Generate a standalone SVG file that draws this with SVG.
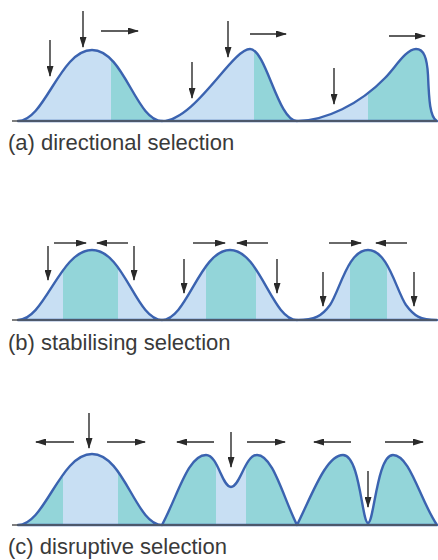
<svg xmlns="http://www.w3.org/2000/svg" width="438" height="560" viewBox="0 0 438 560">
<style>
.curve{fill:none;stroke:#3b63b0;stroke-width:2.4;stroke-linejoin:round}
.lb{fill:#c8dff3}
.tl{fill:#93d5d9}
.axis{stroke:#555;stroke-width:1.5}
.arr{stroke:#2a2a2a;stroke-width:1.4;fill:none;marker-end:url(#ah)}
.lbl{font-family:"Liberation Sans",Arial,sans-serif;font-size:22px;fill:#3a3a3a}
</style>
<defs>
<marker id="ah" markerWidth="11" markerHeight="7" refX="10" refY="3.5" orient="auto" markerUnits="userSpaceOnUse"><path d="M0,0 L11,3.5 L0,7 z" fill="#2a2a2a"/></marker>
<path id="a1" d="M18,121 C45,121 60,50 92,50 C124,50 136,121 162,121 Z"/>
<path id="a2" d="M162,121 C195,121 232,49 250,49 C266,49 278,121 297,121 Z"/>
<path id="a3" d="M297,121 C325,121 360,104 385,78 C395,68 406,49 416,49 C424,49 427,58 428,75 C429,100 430,118 437,121 Z"/>
<path id="b1" d="M18,320 C45,320 60,250 92,250 C124,250 136,320 162,320 Z"/>
<path id="b2" d="M162,320 C187,320 200,250 230,250 C260,250 272,320 297,320 Z"/>
<path id="b3" d="M297,320 C315,320 322,316 330,305 C340,290 348,250 368,250 C388,250 396,290 406,305 C414,316 420,320 437,320 Z"/>
<path id="c1" d="M18,525 C45,525 60,454 92,454 C124,454 136,525 162,525 Z"/>
<path id="c2" d="M162,525 C178,495 188,455 206,455 C218,455 222,487 231,487 C240,487 245,455 257,455 C273,455 283,497 297,525 Z"/>
<path id="c3" d="M297,525 C312,495 326,455 343,455 C360,455 362,523 368,523 C374,523 377,455 393,455 C410,455 420,500 437,525 Z"/>
<clipPath id="ca1"><use href="#a1"/></clipPath>
<clipPath id="ca2"><use href="#a2"/></clipPath>
<clipPath id="ca3"><use href="#a3"/></clipPath>
<clipPath id="cb1"><use href="#b1"/></clipPath>
<clipPath id="cb2"><use href="#b2"/></clipPath>
<clipPath id="cb3"><use href="#b3"/></clipPath>
<clipPath id="cc1"><use href="#c1"/></clipPath>
<clipPath id="cc2"><use href="#c2"/></clipPath>
</defs>
<rect width="438" height="560" fill="#fff"/>

<g id="panel-a">
<g id="a-curve1"><use href="#a1" class="lb"/><rect x="111" y="40" width="60" height="82" class="tl" clip-path="url(#ca1)"/><use href="#a1" class="curve"/></g>
<g id="a-curve2"><use href="#a2" class="lb"/><rect x="254" y="40" width="50" height="82" class="tl" clip-path="url(#ca2)"/><use href="#a2" class="curve"/></g>
<g id="a-curve3"><use href="#a3" class="lb"/><rect x="368" y="40" width="72" height="82" class="tl" clip-path="url(#ca3)"/><use href="#a3" class="curve"/></g>
<line class="axis" x1="12" y1="121" x2="437" y2="121"/>
<text class="lbl" x="8" y="150">(a) directional selection</text>
</g>

<g id="panel-b">
<g id="b-curve1"><use href="#b1" class="lb"/><rect x="63" y="240" width="55" height="82" class="tl" clip-path="url(#cb1)"/><use href="#b1" class="curve"/></g>
<g id="b-curve2"><use href="#b2" class="lb"/><rect x="206" y="240" width="50" height="82" class="tl" clip-path="url(#cb2)"/><use href="#b2" class="curve"/></g>
<g id="b-curve3"><use href="#b3" class="lb"/><rect x="350" y="240" width="37" height="82" class="tl" clip-path="url(#cb3)"/><use href="#b3" class="curve"/></g>
<line class="axis" x1="12" y1="320" x2="437" y2="320"/>
<text class="lbl" x="8" y="350">(b) stabilising selection</text>
</g>

<g id="panel-c">
<g id="c-curve1"><use href="#c1" class="tl"/><rect x="63" y="440" width="55" height="87" class="lb" clip-path="url(#cc1)"/><use href="#c1" class="curve"/></g>
<g id="c-curve2"><use href="#c2" class="tl"/><rect x="216" y="440" width="30" height="87" class="lb" clip-path="url(#cc2)"/><use href="#c2" class="curve"/></g>
<g id="c-curve3"><use href="#c3" class="tl"/><use href="#c3" class="curve"/></g>
<line class="axis" x1="12" y1="525" x2="437" y2="525"/>
<text class="lbl" x="8" y="554">(c) disruptive selection</text>
</g>

<g id="connectors">
<line class="arr" x1="50" y1="40" x2="50" y2="76"/>
<line class="arr" x1="83" y1="11" x2="83" y2="47"/>
<line class="arr" x1="101" y1="31" x2="138" y2="31"/>
<line class="arr" x1="192" y1="62" x2="192" y2="98"/>
<line class="arr" x1="228" y1="21" x2="228" y2="57"/>
<line class="arr" x1="250" y1="34" x2="286" y2="34"/>
<line class="arr" x1="334" y1="68" x2="334" y2="104"/>
<line class="arr" x1="389" y1="36" x2="425" y2="36"/>

<line class="arr" x1="54" y1="243" x2="86" y2="243"/>
<line class="arr" x1="128" y1="243" x2="97" y2="243"/>
<line class="arr" x1="48" y1="246" x2="48" y2="280"/>
<line class="arr" x1="134" y1="246" x2="134" y2="280"/>
<line class="arr" x1="193" y1="243" x2="225" y2="243"/>
<line class="arr" x1="268" y1="243" x2="237" y2="243"/>
<line class="arr" x1="184" y1="259" x2="184" y2="293"/>
<line class="arr" x1="277" y1="259" x2="277" y2="293"/>
<line class="arr" x1="329" y1="243" x2="361" y2="243"/>
<line class="arr" x1="407" y1="243" x2="376" y2="243"/>
<line class="arr" x1="323" y1="272" x2="323" y2="306"/>
<line class="arr" x1="414" y1="272" x2="414" y2="306"/>

<line class="arr" x1="89" y1="413" x2="89" y2="448"/>
<line class="arr" x1="74" y1="442" x2="36" y2="442"/>
<line class="arr" x1="107" y1="442" x2="145" y2="442"/>
<line class="arr" x1="231" y1="432" x2="231" y2="467"/>
<line class="arr" x1="214" y1="442" x2="177" y2="442"/>
<line class="arr" x1="247" y1="442" x2="285" y2="442"/>
<line class="arr" x1="368" y1="471" x2="368" y2="507"/>
<line class="arr" x1="351" y1="442" x2="314" y2="442"/>
<line class="arr" x1="385" y1="442" x2="423" y2="442"/>
</g>
</svg>
